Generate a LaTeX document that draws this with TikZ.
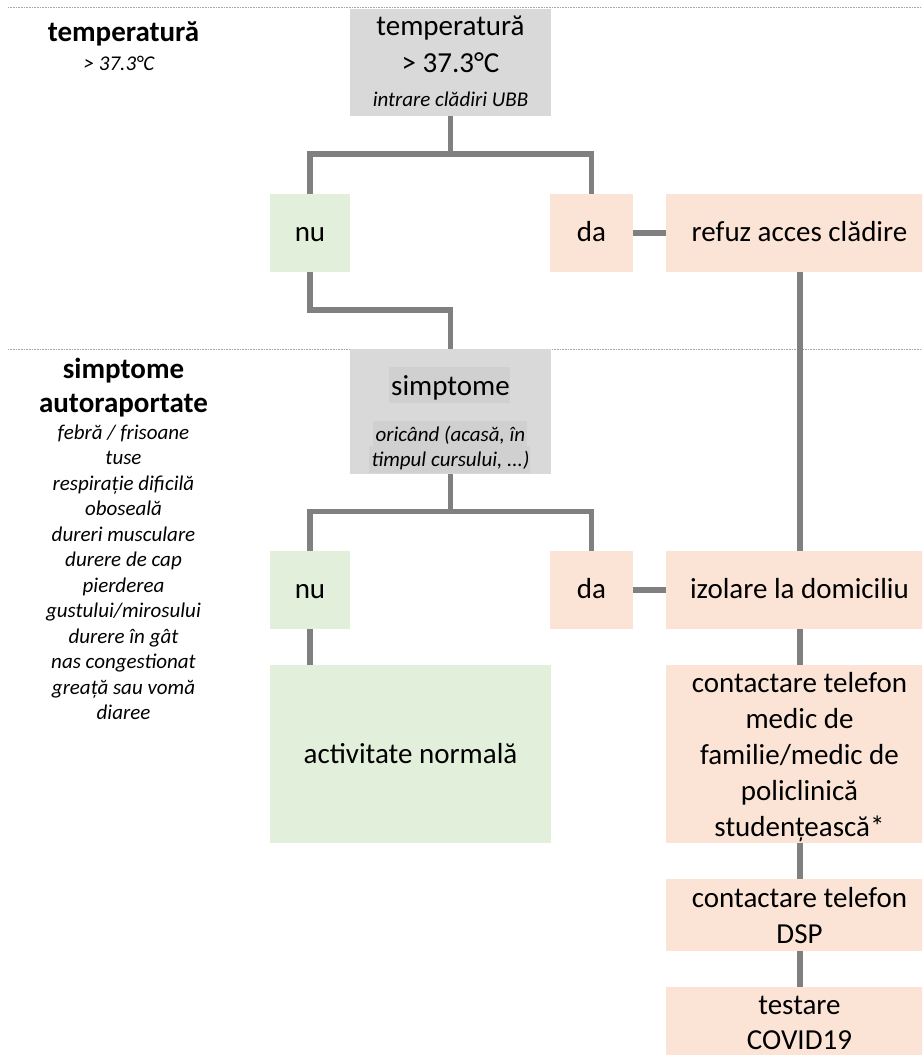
\documentclass[tikz,border=0pt]{standalone}
\usepackage{fontspec}
\setmainfont{Carlito}
\definecolor{boxgray}{HTML}{D9D9D9}
\definecolor{hlgray}{HTML}{D0D0D0}
\definecolor{boxgreen}{HTML}{E2EFDA}
\definecolor{boxpeach}{HTML}{FBE4D6}
\definecolor{conngray}{HTML}{808080}
\definecolor{dotgray}{HTML}{A6A6A6}
\tikzset{
  bx/.style={rectangle, draw=none, inner sep=0pt, outer sep=0pt},
  grayb/.style={bx, fill=boxgray},
  greenb/.style={bx, fill=boxgreen},
  peachb/.style={bx, fill=boxpeach},
  conn/.style={draw=conngray, line width=5.5pt, line join=miter},
  sepline/.style={draw=dotgray, line width=0.8pt, dash pattern=on 0.8pt off 0.8pt},
  txt/.style={inner sep=0pt, outer sep=0pt, anchor=base, font=\fontsize{29}{35}\selectfont},
  itx/.style={inner sep=0pt, outer sep=0pt, anchor=base, font=\fontsize{21}{26}\selectfont\itshape},
  btx/.style={inner sep=0pt, outer sep=0pt, anchor=base, font=\fontsize{29}{35}\selectfont\bfseries},
}
\begin{document}
\begin{tikzpicture}[x=1pt,y=-1pt]
\clip (0,0) rectangle (922,1055);
% separators
\coordinate (sa1) at (8,7.5);   \coordinate (sa2) at (922,7.5);
\coordinate (sb1) at (8,349);   \coordinate (sb2) at (922,349);
\draw[sepline] (sa1) -- (sa2);
\draw[sepline] (sb1) -- (sb2);

% boxes
\node[grayb,  minimum width=201pt, minimum height=107pt] (t1)    at (450.5,62.5) {};
\node[greenb, minimum width=80pt,  minimum height=78pt]  (nu1)   at (310,233) {};
\node[peachb, minimum width=83pt,  minimum height=78pt]  (da1)   at (591.5,233) {};
\node[peachb, minimum width=268pt, minimum height=78pt]  (refuz) at (800,233) {};
\node[grayb,  minimum width=201pt, minimum height=125pt] (s1)    at (450.5,411.5) {};
\node[greenb, minimum width=80pt,  minimum height=78pt]  (nu2)   at (310,590) {};
\node[peachb, minimum width=83pt,  minimum height=78pt]  (da2)   at (591.5,590) {};
\node[peachb, minimum width=268pt, minimum height=78pt]  (izol)  at (800,590) {};
\node[greenb, minimum width=281pt, minimum height=178pt] (act)   at (410.5,754) {};
\node[peachb, minimum width=268pt, minimum height=178pt] (med)   at (800,754) {};
\node[peachb, minimum width=268pt, minimum height=72pt]  (dsp)   at (800,915) {};
\node[peachb, minimum width=268pt, minimum height=72pt]  (test)  at (800,1023) {};

% text highlights inside the symptom box
\fill[hlgray] (389,367) rectangle (510,403);
\fill[hlgray] (373,421) rectangle (527,446);
\fill[hlgray] (369,446) rectangle (530,473);

% connectors
\draw[conn] (t1.south) -- ++(0,38) coordinate (j1);
\draw[conn] (nu1.north) |- (j1) -| (da1.north);
\draw[conn] (da1.east) -- (refuz.west);
\draw[conn] (nu1.south) -- ++(0,38) -| (s1.north);
\draw[conn] (refuz.south) -- (izol.north);
\draw[conn] (s1.south) -- ++(0,37.5) coordinate (j2);
\draw[conn] (nu2.north) |- (j2) -| (da2.north);
\draw[conn] (da2.east) -- (izol.west);
\draw[conn] (nu2.south) -- (act.north -| nu2.south);
\draw[conn] (izol.south) -- (med.north);
\draw[conn] (med.south) -- (dsp.north);
\draw[conn] (dsp.south) -- (test.north);

% left column
\node[btx] (lt1) at (123.5,41) {temperatură};
\node[itx] (lt2) at (119,70) {> 37.3°C};
\node[btx] (ls1) at (123.5,378) {simptome};
\node[btx] (ls2) at (123.5,412.7) {autoraportate};
\foreach \t [count=\i] in {{febră / frisoane},{tuse},{respirație dificilă},{oboseală},{dureri musculare},{durere de cap},{pierderea},{gustului/mirosului},{durere în gât},{nas congestionat},{greață sau vomă},{diaree}}
  \node[itx] (sym\i) at (123.5,{439.3+25.5*(\i-1)}) {\t};

% box texts
\node[txt] (t1a) at (450.5,35.5) {temperatură};
\node[txt] (t1b) at (450.5,72.5) {> 37.3°C};
\node[itx] (t1c) at (450.5,106.5) {intrare clădiri UBB};
\node[txt] (nu1t) at (310,241.5) {nu};
\node[txt] (da1t) at (591.5,241.5) {da};
\node[txt] (reft) at (799.5,241.5) {refuz acces clădire};
\node[txt] (s1a) at (450.5,395) {simptome};
\node[itx] (s1b) at (450.5,441.7) {oricând (acasă, în};
\node[itx] (s1c) at (450.5,466.5) {timpul cursului, ...)};
\node[txt] (nu2t) at (310,598.5) {nu};
\node[txt] (da2t) at (591.5,598.5) {da};
\node[txt] (izt) at (799.5,598.5) {izolare la domiciliu};
\node[txt] (actt) at (410.5,763) {activitate normală};
\node[txt] (m1) at (799.5,692) {contactare telefon};
\node[txt] (m2) at (799.5,728) {medic de};
\node[txt] (m3) at (799.5,764) {familie/medic de};
\node[txt] (m4) at (799.5,800) {policlinică};
\node[txt] (m5) at (799.5,836) {studențească*};
\node[txt] (d1) at (799.5,907) {contactare telefon};
\node[txt] (d2) at (799.5,943) {DSP};
\node[txt] (c1) at (799.5,1014) {testare};
\node[txt] (c2) at (799.5,1049.5) {COVID19};
\end{tikzpicture}
\end{document}
